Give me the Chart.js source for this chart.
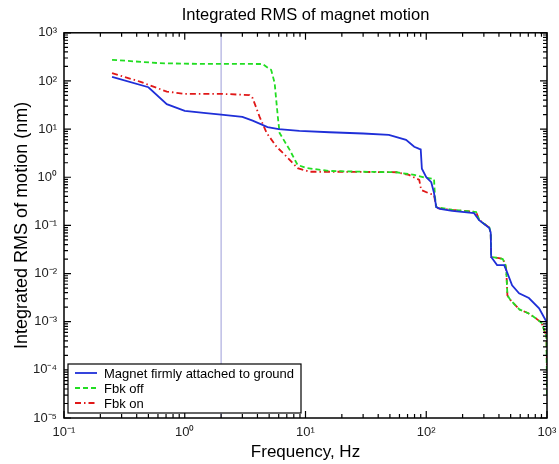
<!DOCTYPE html>
<html lang="en">
<head>
<meta charset="UTF-8">
<title>Integrated RMS of magnet motion</title>
<script src="https://cdn.jsdelivr.net/npm/chart.js"></script>
<style>
    body { margin: 0; background: #fff; }
    #wrap { width: 559px; height: 464px; }
</style>
</head>
<body>
<div id="wrap"><canvas id="rmsChart" width="559" height="464"></canvas></div>
<script>
// values (Hz, nm)
const seriesLabels = ['Magnet firmly attached to ground', 'Fbk off', 'Fbk on'];

const groundFreq = [0.25, 0.5, 0.71, 1.0, 1.5, 2.0, 3.0, 3.65, 4.85, 6, 8.9, 15.8, 30, 49, 68, 79.5, 87.5, 90, 92, 100, 110, 116, 121, 130, 164, 249, 274, 333, 342, 345, 386, 442, 465, 514, 587, 708, 860, 990, 1000];
const groundRms  = [122, 74, 33, 24, 21.5, 20, 18, 15, 11, 10, 9.2, 8.6, 8.1, 7.6, 6.0, 4.3, 3.9, 3.8, 1.5, 1.0, 0.79, 0.47, 0.24, 0.22, 0.2, 0.18, 0.128, 0.088, 0.07, 0.022, 0.015, 0.015, 0.011, 0.0057, 0.0039, 0.0031, 0.0019, 0.001, 0.00055];

const offFreq = [0.25, 0.62, 1, 2, 4.4, 5.2, 5.55, 5.9, 6.1, 7.4, 8.6, 10.2, 15.8, 30, 56.5, 79.5, 100, 116, 118, 121, 164, 259, 274, 333, 342, 345, 400, 430, 450, 460, 470, 500, 590, 700, 800, 900, 990, 1000];
const offRms  = [275, 234, 228, 226, 225, 169, 91, 18, 8.3, 3.7, 1.8, 1.55, 1.35, 1.3, 1.27, 1.12, 0.97, 0.92, 0.4, 0.24, 0.21, 0.19, 0.13, 0.09, 0.07, 0.022, 0.021, 0.02, 0.016, 0.012, 0.0035, 0.0028, 0.0018, 0.0015, 0.0012, 0.00095, 0.0005, 0.00003];

const onFreq = [0.25, 0.425, 0.71, 1.0, 2, 3.44, 3.65, 4.17, 4.77, 5.76, 6.96, 8.6, 10.8, 20, 56.5, 72, 87.5, 90.8, 106, 116, 121, 164, 259, 274, 333, 342, 345, 400, 430, 450, 460, 470, 500, 590, 700, 800, 900, 990, 1000];
const onRms  = [145, 97, 60, 54, 54, 51, 44, 18, 8.3, 4.3, 2.7, 1.55, 1.3, 1.3, 1.27, 1.12, 0.88, 0.545, 0.46, 0.43, 0.23, 0.21, 0.19, 0.13, 0.09, 0.07, 0.022, 0.021, 0.02, 0.016, 0.012, 0.0035, 0.0028, 0.0018, 0.0015, 0.0012, 0.00095, 0.0005, 0.0001];

const markerFreq = 2;

const xDecades = [0.1, 1, 10, 100, 1000];
const xTickLabels = ['10\u207B\u00B9', '10\u2070', '10\u00B9', '10\u00B2', '10\u00B3'];
const yDecades = [1e-5, 1e-4, 1e-3, 1e-2, 1e-1, 1, 10, 100, 1000];
const yTickLabels = ['10\u207B\u2075', '10\u207B\u2074', '10\u207B\u00B3', '10\u207B\u00B2', '10\u207B\u00B9', '10\u2070', '10\u00B9', '10\u00B2', '10\u00B3'];

const toPoints = (xs, ys) => xs.map((x, i) => ({ x: x, y: ys[i] }));

const FONT = '"Liberation Sans", Arial, Helvetica, sans-serif';

// box around the plot plus inward major/minor ticks on all four sides
const framePlugin = {
    id: 'frame',
    afterDatasetsDraw(chart) {
        const ctx = chart.ctx;
        const ca = chart.chartArea;
        const xs = chart.scales.x, ys = chart.scales.y;
        ctx.save();
        ctx.strokeStyle = '#000';
        ctx.lineWidth = 1.2;
        ctx.beginPath();
        const tick = (px, horizontal, len) => {
            if (horizontal) {
                ctx.moveTo(px, ca.bottom); ctx.lineTo(px, ca.bottom - len);
                ctx.moveTo(px, ca.top); ctx.lineTo(px, ca.top + len);
            } else {
                ctx.moveTo(ca.left, px); ctx.lineTo(ca.left + len, px);
                ctx.moveTo(ca.right, px); ctx.lineTo(ca.right - len, px);
            }
        };
        xDecades.forEach((d, i) => {
            tick(xs.getPixelForValue(d), true, 7);
            if (i < xDecades.length - 1) {
                for (let k = 2; k < 10; k++) tick(xs.getPixelForValue(d * k), true, 4);
            }
        });
        yDecades.forEach((d, i) => {
            tick(ys.getPixelForValue(d), false, 7);
            if (i < yDecades.length - 1) {
                for (let k = 2; k < 10; k++) tick(ys.getPixelForValue(d * k), false, 4);
            }
        });
        ctx.stroke();
        ctx.lineWidth = 1.5;
        ctx.strokeRect(ca.left, ca.top, ca.right - ca.left, ca.bottom - ca.top);
        ctx.restore();
    },
    afterDraw(chart) {
        // legend box in the lower-left corner of the plot
        const ctx = chart.ctx;
        const ca = chart.chartArea;
        const left = ca.left + 4, top = ca.bottom - 54, w = 233, h = 49;
        ctx.save();
        ctx.fillStyle = '#fff';
        ctx.fillRect(left, top, w, h);
        ctx.strokeStyle = '#000';
        ctx.lineWidth = 1.2;
        ctx.strokeRect(left, top, w, h);
        ctx.font = '13px ' + FONT;
        ctx.textBaseline = 'middle';
        seriesLabels.forEach((label, i) => {
            const ds = chart.data.datasets[i];
            const y = top + 9 + i * 15;
            ctx.strokeStyle = ds.borderColor;
            ctx.lineWidth = ds.borderWidth;
            ctx.setLineDash(ds.borderDash || []);
            ctx.beginPath();
            ctx.moveTo(left + 7, y);
            ctx.lineTo(left + 29, y);
            ctx.stroke();
            ctx.setLineDash([]);
            ctx.fillStyle = '#000';
            ctx.fillText(label, left + 36, y + 1);
        });
        ctx.restore();
    }
};

new Chart(document.getElementById('rmsChart'), {
    type: 'line',
    data: {
        datasets: [
            {
                label: seriesLabels[0],
                data: toPoints(groundFreq, groundRms),
                borderColor: '#1f2fd8',
                borderWidth: 1.8
            },
            {
                label: seriesLabels[1],
                data: toPoints(offFreq, offRms),
                borderColor: '#22dd22',
                borderWidth: 1.8,
                borderDash: [5, 3]
            },
            {
                label: seriesLabels[2],
                data: toPoints(onFreq, onRms),
                borderColor: '#e01818',
                borderWidth: 1.8,
                borderDash: [6, 3, 1.5, 3]
            },
            {
                label: '',
                data: [{ x: markerFreq, y: 1e-5 }, { x: markerFreq, y: 1e3 }],
                borderColor: '#9c9cd8',
                borderWidth: 1
            }
        ]
    },
    options: {
        responsive: false,
        animation: false,
        layout: { padding: { left: 0, right: 12, top: 0, bottom: 0 } },
        elements: {
            point: { radius: 0 },
            line: { tension: 0, fill: false }
        },
        plugins: {
            legend: { display: false },
            tooltip: { enabled: false },
            title: {
                display: true,
                fullSize: false,
                text: 'Integrated RMS of magnet motion',
                color: '#000',
                font: { family: FONT, size: 16.5, weight: 'normal' },
                padding: { top: 6, bottom: 7 }
            }
        },
        scales: {
            x: {
                type: 'logarithmic',
                min: 0.1,
                max: 1000,
                afterBuildTicks: (scale) => { scale.ticks = xDecades.map(v => ({ value: v })); },
                afterFit: (scale) => {
                    scale.height = 46;
                    scale.paddingLeft = 0;
                    scale.paddingRight = 0;
                },
                grid: { display: false, drawTicks: false },
                border: { display: false },
                ticks: {
                    color: '#222',
                    font: { family: FONT, size: 13 },
                    padding: 7,
                    maxRotation: 0,
                    autoSkip: false,
                    callback: (v, i) => xTickLabels[i]
                },
                title: {
                    display: true,
                    text: 'Frequency, Hz',
                    color: '#000',
                    font: { family: FONT, size: 17 },
                    padding: { top: 0, bottom: 1 }
                }
            },
            y: {
                type: 'logarithmic',
                min: 1e-5,
                max: 1e3,
                afterBuildTicks: (scale) => { scale.ticks = yDecades.map(v => ({ value: v })); },
                afterFit: (scale) => {
                    scale.width = 64;
                    scale.paddingTop = 0;
                    scale.paddingBottom = 0;
                },
                grid: { display: false, drawTicks: false },
                border: { display: false },
                ticks: {
                    color: '#222',
                    font: { family: FONT, size: 13 },
                    padding: 7,
                    autoSkip: false,
                    callback: (v, i) => yTickLabels[i]
                },
                title: {
                    display: true,
                    text: 'Integrated RMS of motion (nm)',
                    color: '#000',
                    font: { family: FONT, size: 18 },
                    padding: { top: 11, bottom: 0 }
                }
            }
        }
    },
    plugins: [framePlugin]
});
</script>
</body>
</html>
